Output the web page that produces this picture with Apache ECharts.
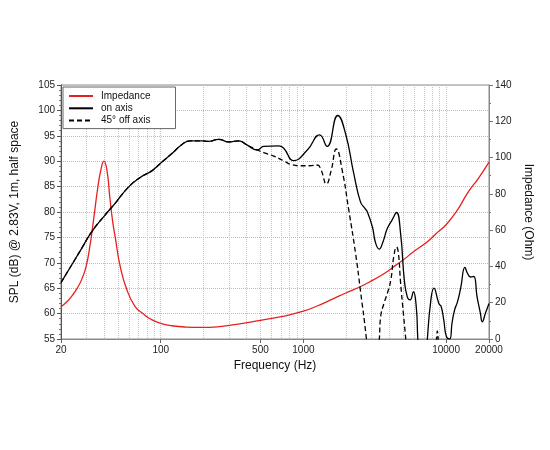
<!DOCTYPE html>
<html>
<head>
<meta charset="utf-8">
<script src="https://cdn.jsdelivr.net/npm/echarts@6/dist/echarts.min.js"></script>
<style>html,body{margin:0;padding:0;background:#fff}#c{width:550px;height:450px}</style>
</head>
<body>
<div id="c"></div>
<script>
// Frequency axis
const xLabelFreqs = [20, 100, 500, 1000, 10000, 20000];
const gridFreqs = [20,30,40,50,60,70,80,90,100,200,300,400,500,600,700,800,900,1000,2000,3000,4000,5000,6000,7000,8000,9000,10000,20000];

// Impedance (Ohm)
const impFreq = [20,22,24,26,28,30,32,34,36,38,40,42,44,46,48,52,58,66,75,85,100,120,150,195,250,330,500,700,1000,1250,1600,2000,2500,3000,3500,4000,4500,5000,6000,7400,8500,10000,12000,14100,17000,20000];
const impOhm  = [17.8,20.5,24,28,33,40,52,67,82,93,98,93,78,65,56,40,27,18,14,11,8.6,7.3,6.6,6.4,6.7,7.9,10.3,12.3,15.3,18.2,22,25.5,28.8,32,35,38,41,43.5,48.5,53.6,58,63,71,80.3,89,97.5];

// On axis SPL (dB)
const onFreq = [20,25,28,32.8,40.7,47.9,59.4,71.8,86.6,100.6,119.8,141,161,195,216,255,299,352,402,474,527,670,726,854,1066,1300,1466,1741,1972,2254,2512,2700,2800,3050,3200,3400,3600,3878,4200,4494,4800,5100,5350,5600,5900,6200,6340,6600,7000,7350,7800,8218,8900,9240,9640,10050,10600,11010,11470,12020,12660,13560,14100,14840,15630,16500,17400,17940,18900,20000];
const onSPL  = [66.1,70.6,72.9,76.1,79.4,81.7,84.9,86.8,88.1,89.7,91.5,93.3,94.0,94.0,93.9,94.3,93.8,94.0,93.2,92.2,92.9,93.0,92.6,90.1,92.2,95.2,92.9,99.0,95.5,87.6,82.0,80.7,80.1,77.0,74.0,72.7,74.0,76.8,78.5,79.9,75.8,66.6,63.3,62.7,64.3,60.9,55,49,46,54,62.3,65.0,62.0,61.4,58.7,55.5,55.0,58.1,60.7,62.3,65.0,69.1,68.0,67.2,67.3,63.3,60.1,58.4,60.1,62.0];

// 45 deg off axis SPL (dB)
const offFreq = [20,25,28,32.8,40.7,47.9,59.4,71.8,86.6,100.6,119.8,141,161,195,216,255,299,352,402,474,527,620,726,812,953,1100,1252,1330,1450,1560,1704,1868,2080,2320,2512,2760,2850,3300,3408,3480,3670,3878,4100,4300,4494,4630,4800,5020,5220,5400,8300,8600,8680,8780,9000,20000];
const offSPL  = [66.1,70.6,72.9,76.1,79.4,81.7,84.9,86.8,88.1,89.7,91.5,93.3,94.0,94.0,93.9,94.3,93.8,94.0,93.2,92.2,91.7,91.0,90.1,89.4,89.1,89.1,89.25,88.3,85.5,88.0,92.4,88.3,80.4,71.9,64.5,55.2,50,50,55,59.4,62,64,66.6,71.2,73.1,72,66.1,60.1,55,50,50,55.5,56.6,55.5,50,50];

const lg = v => Math.log10(v);
const pairs = (fs, vs) => fs.map((f, i) => [lg(f), vs[i]]);

const chart = echarts.init(document.getElementById('c'), null, {renderer: 'canvas'});
const FONT = 'Liberation Sans, Arial, Helvetica, sans-serif';
chart.setOption({
  animation: false,
  textStyle: {fontFamily: FONT},
  grid: {left: 61, right: 61, top: 85, bottom: 111, show: true, borderColor: '#8a8a8a', borderWidth: 1, backgroundColor: 'transparent'},
  legend: {
    data: ['Impedance', 'on axis', '45° off axis'],
    orient: 'vertical', left: 63, top: 87,
    itemWidth: 24, itemHeight: 10, itemGap: 2.3,
    padding: [4, 25, 3, 5],
    backgroundColor: '#fff', borderColor: '#666', borderWidth: 1,
    itemStyle: {opacity: 0},
    textStyle: {fontSize: 10, color: '#111', fontFamily: FONT, padding: [0, 0, 0, 3]},
    z: 10
  },
  xAxis: [{
    type: 'value', min: lg(20), max: lg(20000),
    name: 'Frequency (Hz)', nameLocation: 'middle', nameGap: 20,
    nameTextStyle: {fontSize: 12, color: '#111', fontFamily: FONT},
    axisLine: {lineStyle: {color: '#8a8a8a'}},
    axisTick: {show: true, customValues: xLabelFreqs.map(lg), length: 4, lineStyle: {color: '#666'}},
    axisLabel: {customValues: xLabelFreqs.map(lg), formatter: v => String(Math.round(Math.pow(10, v))), fontSize: 10, color: '#222', margin: 6},
    splitLine: {show: false}
  }, {
    type: 'value', min: lg(20), max: lg(20000), position: 'bottom',
    axisLine: {show: false}, axisLabel: {show: false},
    axisTick: {show: false, customValues: gridFreqs.map(lg)},
    splitLine: {show: true, lineStyle: {type: 'dotted', color: '#c4c4c4', width: 1}}
  }],
  yAxis: [{
    type: 'value', min: 55, max: 105, interval: 5, position: 'left',
    name: 'SPL (dB) @ 2.83V, 1m, half space', nameLocation: 'middle', nameGap: 40, nameRotate: 90,
    nameTextStyle: {fontSize: 12, color: '#111', fontFamily: FONT},
    axisLine: {show: true, lineStyle: {color: '#555'}},
    axisTick: {show: true, length: 4, lineStyle: {color: '#555'}},
    minorTick: {show: true, splitNumber: 5, length: 2, lineStyle: {color: '#777'}},
    axisLabel: {fontSize: 10, color: '#222', margin: 6},
    splitLine: {show: true, lineStyle: {type: 'dotted', color: '#bcbcbc', width: 1}}
  }, {
    type: 'value', min: 0, max: 140, interval: 20, position: 'right',
    name: 'Impedance (Ohm)', nameLocation: 'middle', nameGap: 23, nameRotate: -90,
    nameTextStyle: {fontSize: 12, color: '#111', fontFamily: FONT},
    axisLine: {show: true, lineStyle: {color: '#8a8a8a'}},
    axisTick: {show: true, length: 4, lineStyle: {color: '#777'}},
    minorTick: {show: true, splitNumber: 2, length: 2, lineStyle: {color: '#777'}},
    axisLabel: {fontSize: 10, color: '#222', margin: 6},
    splitLine: {show: false}
  }],
  series: [{
    name: 'Impedance', type: 'line', yAxisIndex: 1, xAxisIndex: 0,
    data: pairs(impFreq, impOhm), symbol: 'none', smooth: 0.5, clip: true,
    lineStyle: {color: '#e5211f', width: 1.3}, itemStyle: {color: '#e5211f'}, z: 3
  }, {
    name: 'on axis', type: 'line', yAxisIndex: 0, xAxisIndex: 0,
    data: pairs(onFreq, onSPL), symbol: 'none', smooth: 0.5, clip: true,
    lineStyle: {color: '#000', width: 1.3}, itemStyle: {color: '#000'}, z: 4
  }, {
    name: '45° off axis', type: 'line', yAxisIndex: 0, xAxisIndex: 0,
    data: pairs(offFreq, offSPL), symbol: 'none', smooth: 0.5, clip: true,
    lineStyle: {color: '#000', width: 1.3, type: [5, 3]}, itemStyle: {color: '#000'}, z: 4
  }]
});
</script>
</body>
</html>
